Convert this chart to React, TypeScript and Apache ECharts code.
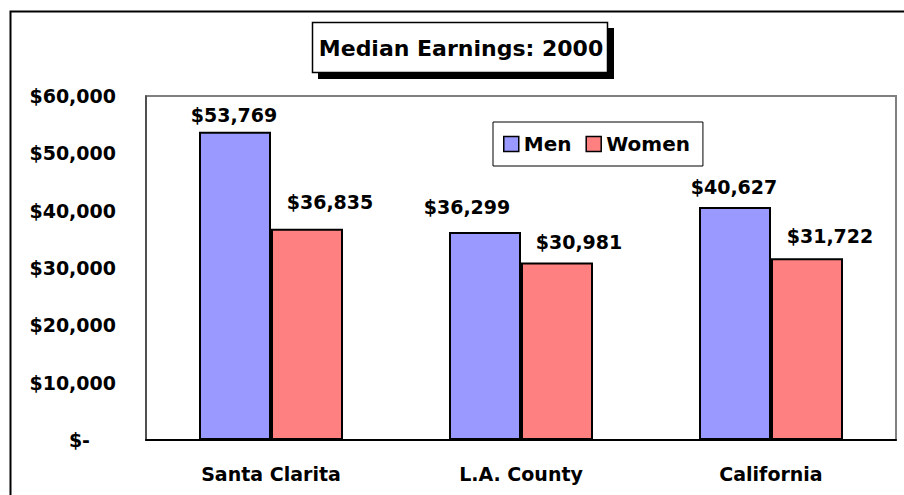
import React, { useEffect, useRef } from "react";
import * as echarts from "echarts";

const categories = ["Santa Clarita", "L.A. County", "California"];
const menValues = [53769, 36299, 40627];
const womenValues = [36835, 30981, 31722];
const yTicks = [0, 10000, 20000, 30000, 40000, 50000, 60000];
const titleText = "Median Earnings: 2000";

const FONT = '"DejaVu Sans", "Liberation Sans", sans-serif';

// label nudges (style only), per category
const menLabelOffsets = [[-1, 0], [-18, -8.5], [-1, -3.5]];
const womenLabelOffsets = [[23, -10], [22, -4], [23, -6]];

const fmt = (v: number) => "$" + v.toLocaleString("en-US");

export default function App() {
  const ref = useRef<HTMLDivElement>(null);
  useEffect(() => {
    if (!ref.current) return;
    const chart = echarts.init(ref.current, null, { renderer: "svg" });
    const labelStyle = {
      show: true,
      position: "top",
      distance: 7,
      fontFamily: FONT,
      fontWeight: "bold",
      fontSize: 19,
      color: "#000",
      formatter: (p: any) => fmt(p.value),
    };
    chart.setOption({
      animation: false,
      backgroundColor: "#fff",
      grid: {
        left: 146,
        top: 96,
        right: 8,
        bottom: 55,
        show: true,
        borderColor: "#808080",
        borderWidth: 2,
        backgroundColor: "#fff",
      },
      legend: {
        data: ["Men", "Women"],
        left: 493,
        top: 122,
        orient: "horizontal",
        icon: "rect",
        itemWidth: 15,
        itemHeight: 15,
        itemGap: 14,
        padding: [12, 13, 12, 10],
        borderColor: "#000",
        borderWidth: 1,
        backgroundColor: "#fff",
        itemStyle: { borderColor: "#000", borderWidth: 1.5 },
        textStyle: { fontFamily: FONT, fontWeight: "bold", fontSize: 20, color: "#000" },
      },
      xAxis: {
        type: "category",
        data: categories,
        axisLine: { show: true, lineStyle: { color: "#000", width: 2 } },
        axisTick: { show: false },
        axisLabel: {
          margin: 24,
          fontFamily: FONT,
          fontWeight: "bold",
          fontSize: 19,
          color: "#000",
        },
      },
      yAxis: {
        type: "value",
        min: yTicks[0],
        max: yTicks[yTicks.length - 1],
        interval: yTicks[1] - yTicks[0],
        splitLine: { show: false },
        axisTick: { show: false },
        axisLine: { show: true, lineStyle: { color: "#404040", width: 1.5 } },
        axisLabel: {
          margin: 30,
          fontFamily: FONT,
          fontWeight: "bold",
          fontSize: 19,
          color: "#000",
          formatter: (v: number) => (v === 0 ? "{z|$-}" : fmt(v)),
          rich: {
            z: {
              fontFamily: FONT,
              fontWeight: "bold",
              fontSize: 19,
              color: "#000",
              padding: [0, 26, 0, 0],
            },
          },
        },
      },
      series: [
        {
          name: "Men",
          type: "bar",
          barWidth: 72,
          barGap: "0%",
          itemStyle: { color: "#9999FF", borderColor: "#000", borderWidth: 2 },
          data: menValues.map((v, i) => ({
            value: v,
            label: { offset: menLabelOffsets[i] },
          })),
          label: labelStyle,
        },
        {
          name: "Women",
          type: "bar",
          barWidth: 72,
          barGap: "0%",
          itemStyle: { color: "#FF8080", borderColor: "#000", borderWidth: 2 },
          data: womenValues.map((v, i) => ({
            value: v,
            label: { offset: womenLabelOffsets[i] },
          })),
          label: labelStyle,
        },
      ],
      graphic: [
        {
          type: "rect",
          z: -10,
          silent: true,
          shape: { x: 10.5, y: 11.5, width: 1000, height: 1000 },
          style: { fill: "none", stroke: "#000", lineWidth: 2 },
        },
        {
          type: "rect",
          z: 100,
          silent: true,
          shape: { x: 318, y: 28, width: 296, height: 51 },
          style: { fill: "#000" },
        },
        {
          type: "rect",
          z: 101,
          silent: true,
          shape: { x: 312.5, y: 22.5, width: 295, height: 50 },
          style: { fill: "#fff", stroke: "#000", lineWidth: 1.5 },
        },
        {
          type: "text",
          z: 102,
          silent: true,
          x: 461,
          y: 48,
          style: {
            text: titleText,
            fontFamily: FONT,
            fontWeight: "bold",
            fontSize: 22,
            fill: "#000",
            align: "center",
            verticalAlign: "middle",
          },
        },
      ],
    });
    return () => chart.dispose();
  }, []);
  return (
    <div
      ref={ref}
      style={{ position: "fixed", left: 0, top: 0, width: 904, height: 495 }}
    />
  );
}
